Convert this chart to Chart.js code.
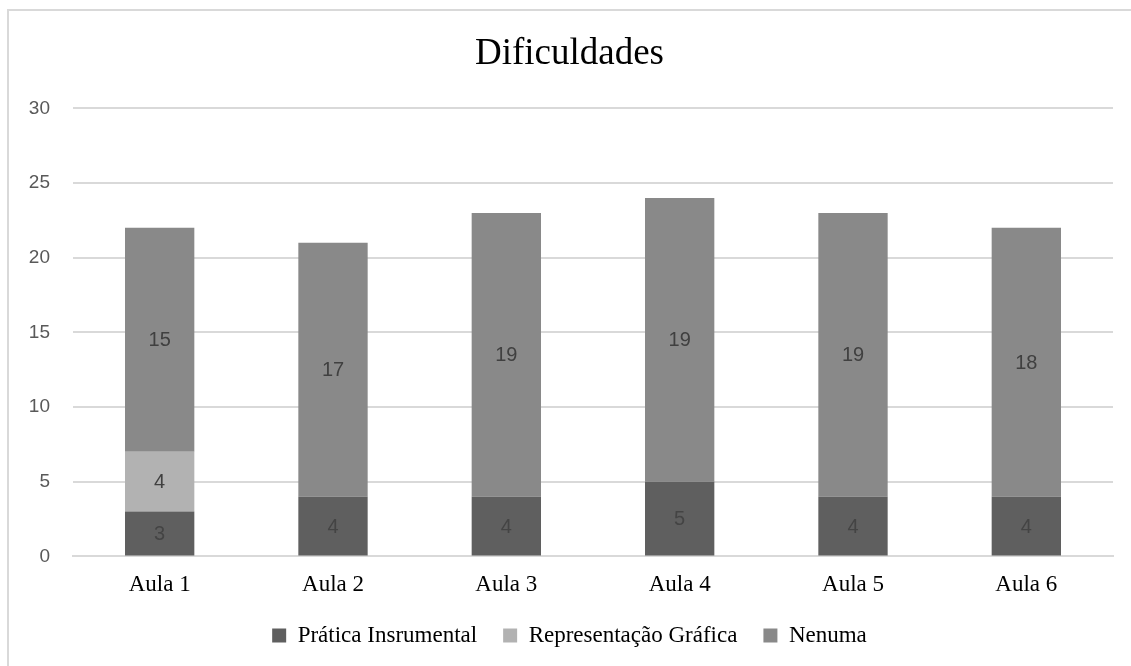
<!DOCTYPE html>
<html>
<head>
<meta charset="utf-8">
<script src="https://cdn.jsdelivr.net/npm/chart.js@4"></script>
<style>
  html, body { margin: 0; padding: 0; background: #fff; overflow: hidden; }
  #frame {
    position: absolute; left: 7px; top: 9px;
    width: 1200px; height: 700px;
    border-left: 2px solid #d9d9d9; border-top: 2px solid #d9d9d9;
  }
  #wrap { position: absolute; left: 0; top: 0; width: 1131px; height: 666px; }
</style>
</head>
<body>
<div id="frame"></div>
<div id="wrap"><canvas id="chart"></canvas></div>
<script>
// Data
const categories = ["Aula 1", "Aula 2", "Aula 3", "Aula 4", "Aula 5", "Aula 6"];
const praticaInstrumental = [3, 4, 4, 5, 4, 4];
const representacaoGrafica = [4, 0, 0, 0, 0, 0];
const nenhuma = [15, 17, 19, 19, 19, 18];
const yTicks = [0, 5, 10, 15, 20, 25, 30];

const serif = "'Liberation Serif', 'Times New Roman', serif";
const sans = "'Liberation Sans', Arial, sans-serif";

// draw the value in the middle of every segment (skip zeros)
const segmentLabels = {
  id: "segmentLabels",
  afterDatasetsDraw(chart) {
    const ctx = chart.ctx;
    ctx.save();
    ctx.font = "20px " + sans;
    ctx.textAlign = "center";
    ctx.textBaseline = "middle";
    chart.data.datasets.forEach((ds, i) => {
      const meta = chart.getDatasetMeta(i);
      meta.data.forEach((bar, j) => {
        const v = ds.data[j];
        if (!v) return;
        const mid = (bar.y + bar.base) / 2;
        ctx.fillStyle = i === 0 ? "#444444" : "#404040";
        ctx.fillText(String(v), bar.x, mid + 1);
      });
    });
    ctx.restore();
  },
};

new Chart(document.getElementById("chart"), {
  type: "bar",
  data: {
    labels: categories,
    datasets: [
      {
        label: "Prática Insrumental",
        data: praticaInstrumental,
        backgroundColor: "#5f5f5f",
        borderWidth: 0,
      },
      {
        label: "Representação Gráfica",
        data: representacaoGrafica,
        backgroundColor: "#b2b2b2",
        borderWidth: 0,
      },
      {
        label: "Nenuma",
        data: nenhuma,
        backgroundColor: "#898989",
        borderWidth: 0,
      },
    ],
  },
  options: {
    responsive: true,
    maintainAspectRatio: false,
    animation: false,
    categoryPercentage: 0.8,
    barPercentage: 0.5,
    layout: { padding: { left: 26, right: 18, top: 22, bottom: 9 } },
    plugins: {
      title: {
        display: true,
        text: "Dificuldades",
        color: "#000",
        font: { family: serif, size: 37, weight: "normal" },
        padding: { top: 10, bottom: 32 },
      },
      legend: {
        position: "bottom",
        labels: {
          color: "#000",
          boxWidth: 14,
          boxHeight: 14,
          padding: 26,
          font: { family: serif, size: 23 },
        },
      },
      tooltip: { enabled: false },
    },
    scales: {
      x: {
        stacked: true,
        grid: { display: false },
        border: { color: "#d9d9d9", width: 2 },
        afterFit: (axis) => {
          axis.height -= 8;
        },
        ticks: {
          color: "#000",
          padding: 7,
          font: { family: serif, size: 23 },
        },
      },
      y: {
        stacked: true,
        min: 0,
        max: 30,
        afterBuildTicks: (axis) => {
          axis.ticks = yTicks.map((v) => ({ value: v }));
        },
        afterFit: (axis) => {
          axis.width = 47;
        },
        grid: { color: "#d9d9d9", lineWidth: 2, drawTicks: false },
        border: { display: false },
        ticks: {
          color: "#595959",
          padding: 23,
          font: { family: sans, size: 19 },
        },
      },
    },
  },
  plugins: [segmentLabels],
});
</script>
</body>
</html>
